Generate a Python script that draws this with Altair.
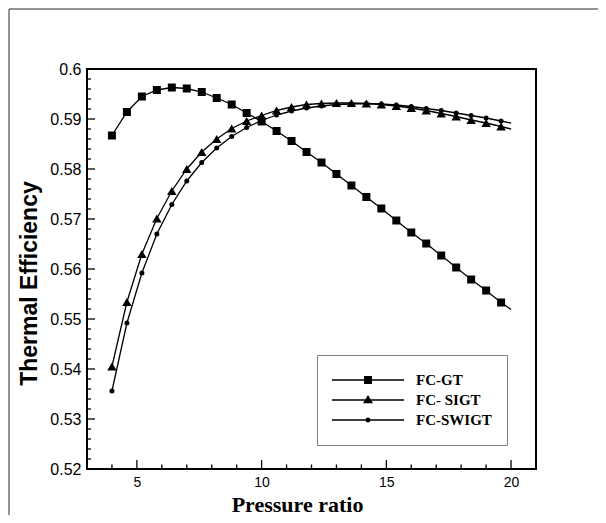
import altair as alt
import pandas as pd

# ---------------- data ----------------
pressure_ratio = [4.0, 4.6, 5.2, 5.8, 6.4, 7.0, 7.6, 8.2, 8.8, 9.4, 10.0, 10.6, 11.2, 11.8,
                  12.4, 13.0, 13.6, 14.2, 14.8, 15.4, 16.0, 16.6, 17.2, 17.8, 18.4, 19.0, 19.6, 20.0]

fc_gt = [0.5867, 0.5914, 0.5945, 0.5958, 0.5963, 0.5961, 0.5954, 0.5942, 0.5929, 0.5912,
         0.5895, 0.5876, 0.5856, 0.5834, 0.5813, 0.5790, 0.5767, 0.5744, 0.5721, 0.5697,
         0.5673, 0.5651, 0.5627, 0.5603, 0.5579, 0.5557, 0.5533, 0.5519]

fc_sigt = [0.5405, 0.5534, 0.5630, 0.5701, 0.5756, 0.5800, 0.5834, 0.5860, 0.5881, 0.5896,
           0.5907, 0.5917, 0.5924, 0.5929, 0.5931, 0.5932, 0.5932, 0.5931, 0.5929, 0.5926,
           0.5922, 0.5917, 0.5911, 0.5905, 0.5898, 0.5892, 0.5885, 0.5880]

fc_swigt = [0.5356, 0.5492, 0.5592, 0.5670, 0.5729, 0.5776, 0.5813, 0.5842, 0.5865, 0.5883,
            0.5897, 0.5908, 0.5916, 0.5922, 0.5926, 0.5929, 0.5930, 0.5931, 0.5930, 0.5928,
            0.5925, 0.5921, 0.5917, 0.5912, 0.5907, 0.5902, 0.5896, 0.5892]

series_names = ["FC-GT", "FC- SIGT", "FC-SWIGT"]
series_shapes = {"FC-GT": "square", "FC- SIGT": "triangle-up", "FC-SWIGT": "circle"}
series_sizes = {"FC-GT": 64, "FC- SIGT": 90, "FC-SWIGT": 25}

x_major = [5, 10, 15, 20]
x_minor = [4, 6, 7, 8, 9, 11, 12, 13, 14, 16, 17, 18, 19]
y_major = [0.52, 0.53, 0.54, 0.55, 0.56, 0.57, 0.58, 0.59, 0.6]
y_minor = [round(0.52 + 0.002 * i, 3) for i in range(1, 40) if i % 5]

# legend symbols: filled thin bar (the line) + filled marker, unit box -1..1
_bar = "M-1,-0.018L1,-0.018L1,0.018L-1,0.018Z"
legend_paths = [
    _bar + "M-0.11,-0.11L0.11,-0.11L0.11,0.11L-0.11,0.11Z",
    _bar + "M0,-0.14L0.14,0.09L-0.14,0.09Z",
    _bar + "M-0.07,0A0.07,0.07 0 1,1 0.07,0A0.07,0.07 0 1,1 -0.07,0Z",
]

W, H = 449, 400
X_DOM = [3, 21]
Y_DOM = [0.52, 0.6]

# one table: the curves plus the tick anchor points on the bottom / left edges
rows = []
for name, vals in zip(["FC-GT", "FC-SWIGT", "FC- SIGT"], [fc_gt, fc_swigt, fc_sigt]):
    for p, v in zip(pressure_ratio, vals):
        rows.append({"kind": "curve", "pr": p, "eff": v, "series": name})
for v in x_major:
    rows.append({"kind": "xM", "pr": v, "eff": Y_DOM[0], "series": ""})
for v in x_minor:
    rows.append({"kind": "xm", "pr": v, "eff": Y_DOM[0], "series": ""})
for v in y_major:
    rows.append({"kind": "yM", "pr": X_DOM[0], "eff": v, "series": ""})
for v in y_minor:
    rows.append({"kind": "ym", "pr": X_DOM[0], "eff": v, "series": ""})
df = pd.DataFrame(rows)

xs = alt.Scale(domain=X_DOM, nice=False, zero=False)
ys = alt.Scale(domain=Y_DOM, nice=False, zero=False)

# one axis definition shared by every layer, so the layers merge cleanly
X_AX = alt.Axis(
    orient="bottom", values=x_major, ticks=False, tickSize=0, domain=False, grid=False,
    labelFont="Liberation Sans", labelFontSize=14, labelColor="black", labelPadding=6,
    title="Pressure ratio", titleFont="Liberation Serif", titleFontSize=22,
    titleFontWeight="bold", titleColor="black", titleX=210, titleY=42,
    titleBaseline="alphabetic")
Y_AX = alt.Axis(
    orient="left", values=y_major, format=".2~f", ticks=False, tickSize=0,
    domain=False, grid=False, labelFont="Liberation Sans", labelFontSize=16,
    labelColor="black", labelPadding=6,
    title="Thermal Efficiency", titleFont="Liberation Sans", titleFontSize=23,
    titleFontWeight="bold", titleColor="black", titleX=-51, titleY=214,
    titleBaseline="alphabetic")

base = alt.Chart(df)
X = alt.X("pr:Q", scale=xs, axis=X_AX)
Y = alt.Y("eff:Q", scale=ys, axis=Y_AX)

lines = base.mark_line(color="black", strokeWidth=1.3).encode(
    x=X, y=Y, detail="series:N"
).transform_filter(alt.datum.kind == "curve")


# ---------------- inward ticks: filled bar-shaped symbols anchored on the edges ----------------
def tick_marks(kind, path, size):
    return base.mark_point(filled=True, color="black", opacity=1, shape=path, size=size).encode(
        x=X, y=Y
    ).transform_filter(alt.datum.kind == kind)


# vertical bar going up from the anchor (length = sqrt(size)/2 px)
x_tick_major = tick_marks("xM", "M-0.07,-1L0.07,-1L0.07,0L-0.07,0Z", 324)    # 9 px
x_tick_minor = tick_marks("xm", "M-0.15,-1L0.15,-1L0.15,0L-0.15,0Z", 81)     # 4.5 px
# horizontal bar going right from the anchor
y_tick_major = tick_marks("yM", "M0,-0.08L1,-0.08L1,0.08L0,0.08Z", 256)      # 8 px
y_tick_minor = tick_marks("ym", "M0,-0.16L1,-0.16L1,0.16L0,0.16Z", 64)       # 4 px

point_layers = []
for name in ["FC-GT", "FC-SWIGT", "FC- SIGT"]:
    point_layers.append(
        base.mark_point(filled=True, color="black", opacity=1,
                        shape=series_shapes[name], size=series_sizes[name]).encode(
            x=X, y=Y,
        ).transform_filter(
            (alt.datum.kind == "curve") & (alt.datum.pr < 19.9) & (alt.datum.series == name)
        )
    )

legend_layer = base.mark_point(filled=True, color="black", opacity=1).encode(
    x=X, y=Y,
    shape=alt.Shape("series:N", scale=alt.Scale(domain=series_names, range=legend_paths),
                    legend=alt.Legend(
                        orient="none", legendX=230, legendY=286, title=None,
                        padding=15, strokeColor="#808080", fillColor="white",
                        symbolSize=5184, symbolStrokeWidth=0, symbolFillColor="black",
                        symbolOpacity=1,
                        labelFont="Liberation Serif", labelFontWeight="bold",
                        labelFontSize=15, labelColor="black", labelOffset=12,
                        clipHeight=20, rowPadding=0)),
).transform_filter(alt.datum.pr < 0)

frame_df = pd.DataFrame({"k": [0]})
frame_left = alt.Chart(frame_df).mark_rule(color="#707070", strokeWidth=1.5).encode(
    x=alt.value(-78), y=alt.value(-60), y2=alt.value(460))
frame_top = alt.Chart(frame_df).mark_rule(color="#707070", strokeWidth=1.5).encode(
    x=alt.value(-78), x2=alt.value(520), y=alt.value(-60))

chart = alt.layer(
    lines, x_tick_major, x_tick_minor, y_tick_major, y_tick_minor,
    *point_layers, legend_layer, frame_left, frame_top
).properties(
    width=W, height=H,
    autosize=alt.AutoSizeParams(type="none"),
    padding={"left": 79, "top": 61, "right": 62, "bottom": 46},
    background="white",
).configure_view(
    stroke="black", strokeWidth=2
)

chart.save("out.html", embed_options={"renderer": "svg", "actions": False})
